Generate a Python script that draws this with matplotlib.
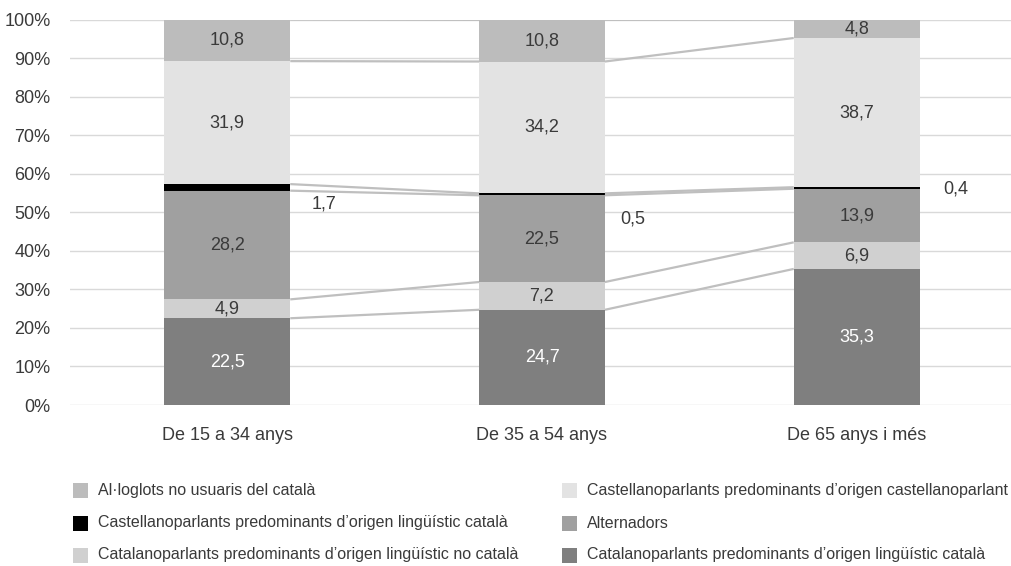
import matplotlib
matplotlib.use("Agg")
import matplotlib.pyplot as plt
from matplotlib.patches import Rectangle
import numpy as np

plt.rcParams["font.family"] = ["Liberation Sans", "DejaVu Sans"]

categories = ["De 15 a 34 anys", "De 35 a 54 anys", "De 65 anys i més"]

# stacked bottom -> top
series_names = [
    "Catalanoparlants predominants d’origen lingüístic català",
    "Catalanoparlants predominants d’origen lingüístic no català",
    "Alternadors",
    "Castellanoparlants predominants d’origen lingüístic català",
    "Castellanoparlants predominants d’origen castellanoparlant",
    "Al·loglots no usuaris del català",
]
cat_catala = [22.5, 24.7, 35.3]
cat_no_catala = [4.9, 7.2, 6.9]
alternadors = [28.2, 22.5, 13.9]
cast_catala = [1.7, 0.5, 0.4]
cast_cast = [31.9, 34.2, 38.7]
alloglots = [10.8, 10.8, 4.8]

series_values = [cat_catala, cat_no_catala, alternadors, cast_catala, cast_cast, alloglots]
series_colors = ["#7f7f7f", "#d0d0d0", "#a0a0a0", "#000000", "#e3e3e3", "#bcbcbc"]
label_colors = ["white", "#3a3a3a", "#3a3a3a", None, "#3a3a3a", "#3a3a3a"]

# offsets (points) for the thin black segment labels drawn outside the bar
thin_dx = [24, 20, 26]
thin_dy = [-12, -18, -1]

TEXT = "#3a3a3a"
W = 0.4

fig = plt.figure(figsize=(10.11, 5.66), dpi=100)
ax = fig.add_axes([70 / 1011, (566 - 405) / 566, 944 / 1011, 385.5 / 566])

x = np.arange(len(categories))
bottoms = np.zeros(len(categories))
tops = []
for vals, col in zip(series_values, series_colors):
    vals = np.array(vals)
    ax.bar(x, vals, W, bottom=bottoms, color=col, zorder=2, linewidth=0)
    bottoms = bottoms + vals
    tops.append(bottoms.copy())

# series lines between bars
for top in tops:
    for i in range(len(categories) - 1):
        ax.plot([x[i] + W / 2, x[i + 1] - W / 2], [top[i], top[i + 1]],
                color="#bfbfbf", lw=1.6, zorder=3, solid_capstyle="butt")

# data labels
base = np.zeros(len(categories))
for k, (vals, lc) in enumerate(zip(series_values, label_colors)):
    for i, v in enumerate(vals):
        mid = base[i] + v / 2
        txt = f"{v:.1f}".replace(".", ",")
        if lc is None:
            ax.annotate(txt, xy=(x[i] + W / 2, mid), xytext=(thin_dx[i], thin_dy[i]),
                        textcoords="offset points", ha="center", va="center",
                        fontsize=13, color=TEXT)
        else:
            ax.text(x[i], mid, txt, ha="center", va="center", fontsize=13, color=lc, zorder=4)
    base = base + np.array(vals)

ax.set_xlim(-0.5, 2.5)
ax.set_ylim(0, 100)
ax.set_yticks(np.arange(0, 101, 10))
ax.set_yticklabels([f"{t}%" for t in range(0, 101, 10)])
ax.set_xticks(x)
ax.set_xticklabels(categories)
ax.tick_params(axis="y", length=0, pad=14, labelsize=13, labelcolor=TEXT)
ax.tick_params(axis="x", length=0, pad=16, labelsize=13, labelcolor=TEXT)
ax.grid(axis="y", color="#d9d9d9", lw=1.0, zorder=0)
ax.set_axisbelow(True)
for s in ax.spines.values():
    s.set_visible(False)

# legend, laid out row-wise in two columns
legend_order = [5, 3, 1, 4, 2, 0]
col_x = [73, 562]
row_y = [490, 523, 555]
for n, k in enumerate(legend_order):
    c, r = divmod(n, 3)
    sx, sy = col_x[c], row_y[r]
    fig.add_artist(Rectangle((sx / 1011, 1 - (sy + 7.5) / 566), 15 / 1011, 15 / 566,
                             transform=fig.transFigure, color=series_colors[k], lw=0))
    fig.text((sx + 25) / 1011, 1 - sy / 566, series_names[k], ha="left", va="center",
             fontsize=11.5, color=TEXT)

fig.savefig("out.png", dpi=100)
